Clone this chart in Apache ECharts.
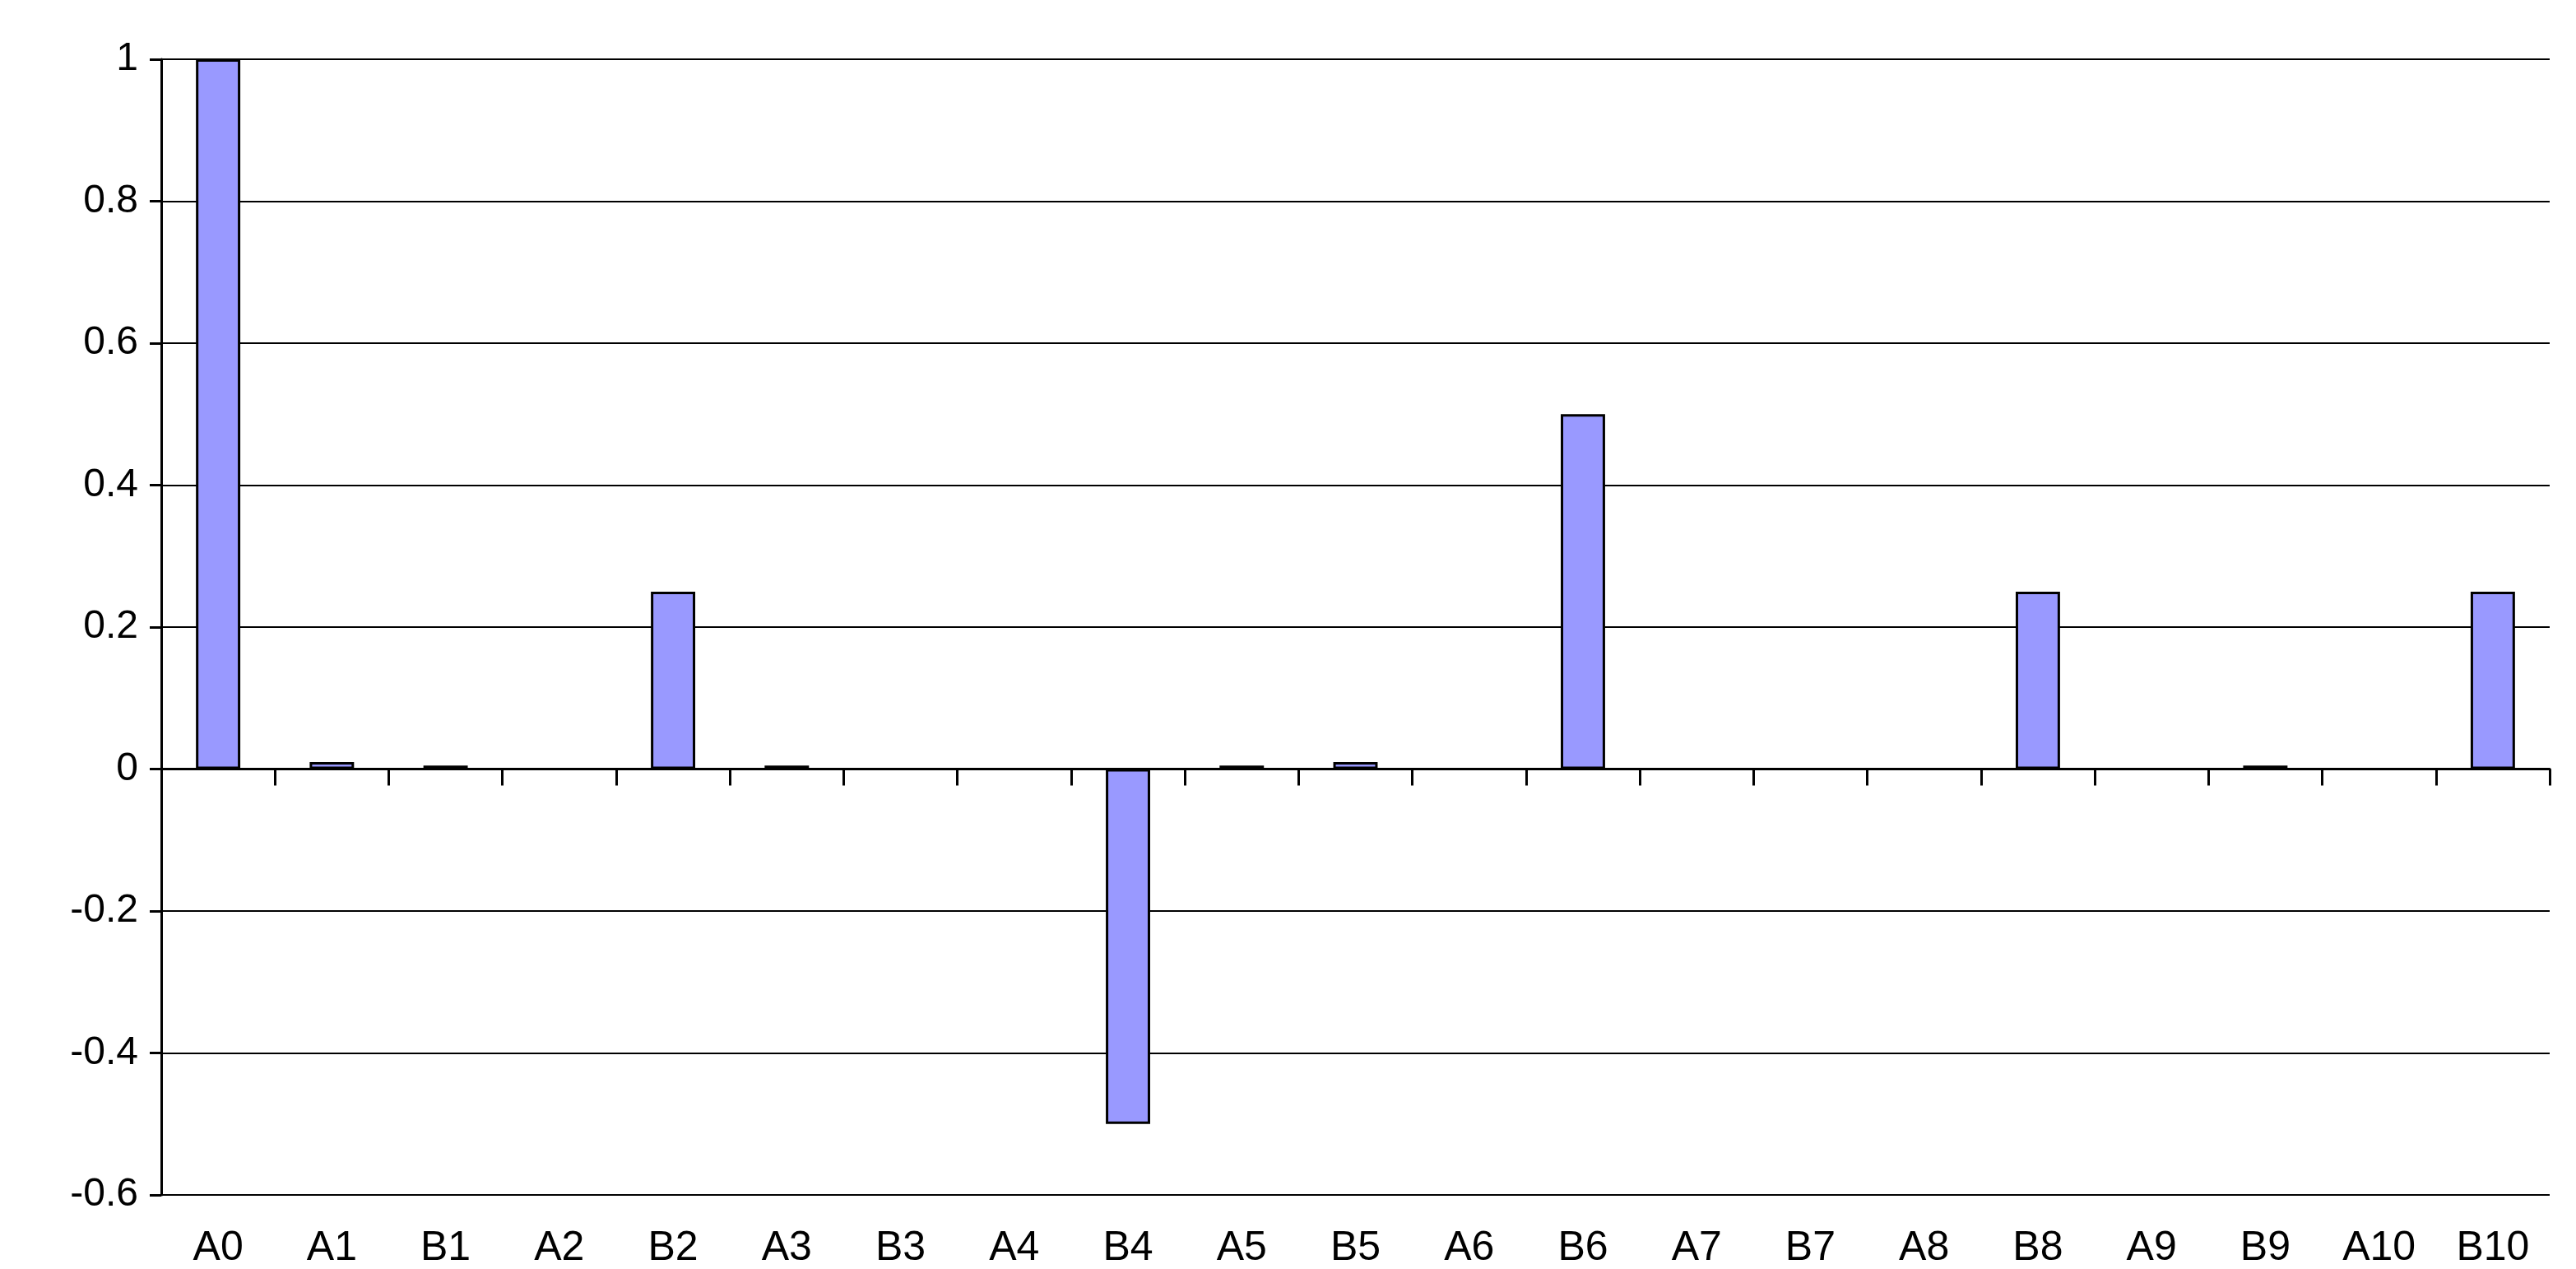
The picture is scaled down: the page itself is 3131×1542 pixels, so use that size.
<!DOCTYPE html>
<html>
<head>
<meta charset="utf-8">
<script src="https://cdn.jsdelivr.net/npm/echarts@6/dist/echarts.min.js"></script>
<style>
html, body { margin: 0; padding: 0; background: #fff; }
#chart { width: 3131px; height: 1542px; }
</style>
</head>
<body>
<div id="chart"></div>
<script>
const categories = ['A0', 'A1', 'B1', 'A2', 'B2', 'A3', 'B3', 'A4', 'B4', 'A5', 'B5', 'A6', 'B6', 'A7', 'B7', 'A8', 'B8', 'A9', 'B9', 'A10', 'B10']
const values = [1, 0.01, 0.005, 0, 0.25, 0.005, 0, 0, -0.5, 0.005, 0.01, 0, 0.5, 0, 0, 0, 0.25, 0, 0.005, 0, 0.25]
const yTicks = [-0.6, -0.4, -0.2, 0, 0.2, 0.4, 0.6, 0.8, 1]

let chart = echarts.init(document.getElementById('chart'))
chart.setOption({
	animation: false,
	backgroundColor: '#fff',
	grid: { left: 196, right: 32, top: 72, bottom: 60, containLabel: false },
	xAxis: {
		type: 'category',
		data: categories,
		axisLine: { onZero: true, lineStyle: { color: '#000', width: 3 } },
		axisTick: { show: true, length: 20, lineStyle: { color: '#000', width: 3 } },
		axisLabel: { color: '#000', fontSize: 50, fontFamily: 'Liberation Sans', margin: 40 },
	},
	yAxis: {
		type: 'value',
		min: yTicks[0],
		max: yTicks[yTicks.length - 1],
		interval: 0.2,
		axisLine: { show: true, lineStyle: { color: '#000', width: 3 } },
		axisTick: { show: true, length: 14, lineStyle: { color: '#000', width: 3 } },
		axisLabel: {
			color: '#000', fontSize: 48, fontFamily: 'Liberation Sans', margin: 28,
			formatter: v => String(Math.round(v * 10) / 10),
		},
		splitLine: { show: true, lineStyle: { color: '#000', width: 2 } },
	},
	series: [
		{
			type: 'bar',
			data: values,
			barWidth: '39%',
			itemStyle: { color: '#9999ff', borderColor: '#000', borderWidth: 3 },
		},
	],
})
</script>
</body>
</html>
